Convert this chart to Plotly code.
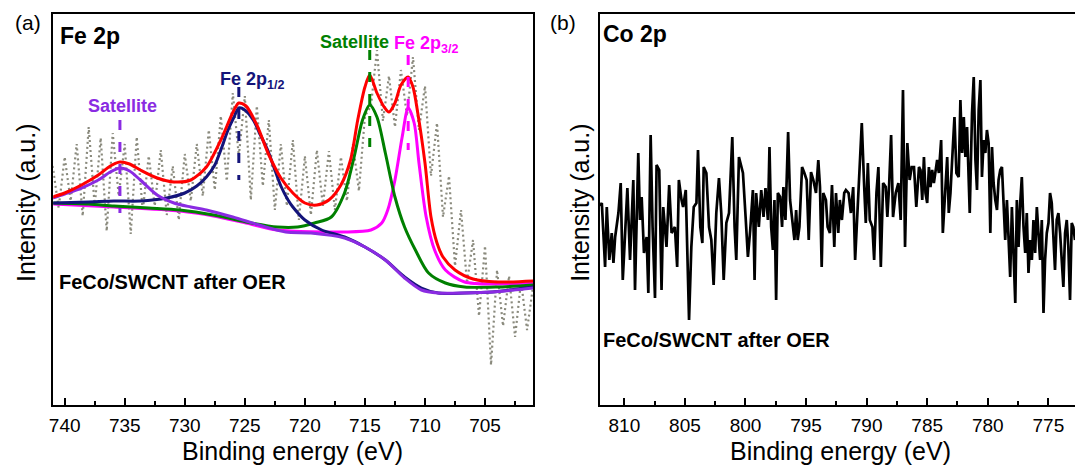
import plotly.graph_objects as go

FONT = "Liberation Sans, Arial, sans-serif"

# ---------------- Panel (a): Fe 2p ----------------
# raw spectrum, binding energy from 741 eV downwards in 0.5 eV steps
fe_start, fe_step = 741.0, 0.5
fe_raw = [240, 198, 249, 205, 262, 190, 279, 200, 268, 175,
          273, 210, 262, 172, 269, 195, 250, 200, 256, 191,
          240, 186, 252, 205, 262, 210, 276, 216, 290, 225,
          313, 250, 310, 206, 300, 220, 286, 196, 262, 200,
          266, 186, 250, 191, 256, 200, 255, 196, 249, 205,
          262, 215, 290, 300, 356, 285, 330, 279, 336, 290,
          349, 276, 320, 230, 283, 189, 230, 140, 196, 123,
          166, 90, 160, 41, 136, 80, 130, 69, 125, 76, 120]
fe_energy = [fe_start - fe_step * i for i in range(len(fe_raw))]

# fitted envelope (red)
env_e = [741.0, 740.0, 738.6, 737.2, 736.2, 735.4, 734.6, 733.7, 732.3, 730.9,
         729.5, 728.2, 727.0, 725.9, 725.5, 724.9, 724.0, 723.0, 722.0, 721.0,
         720.0, 719.0, 718.0, 717.0, 716.2, 715.6, 715.0, 714.6, 714.0, 713.4,
         713.0, 712.5, 712.0, 711.4, 711.0, 710.6, 710.0, 709.5, 709.0, 708.5,
         707.5, 706.0, 704.0, 701.0]
env_v = [209, 213, 221, 231, 240, 244, 242, 236, 228, 224,
         226, 239, 266, 296, 303, 300, 281, 251, 228, 213,
         203, 201, 206, 221, 246, 286, 319, 331, 313, 299,
         294, 303, 321, 329, 319, 293, 243, 189, 163, 149,
         136, 127, 124, 125]

# satellite component at ~735.4 eV (purple)
sat1_e = [741.0, 740.0, 738.6, 737.2, 736.2, 735.4, 734.6, 733.7, 732.3, 730.9,
          729.5, 728.2, 726.0, 723.8, 721.6, 719.5, 716.7, 715.0, 713.3, 711.7,
          710.3, 708.9, 706.7, 704.4, 701.0]
sat1_v = [208, 212, 218, 226, 234, 238, 235, 226, 211, 203,
          199, 196, 189, 181, 174, 173, 168, 159, 146, 128,
          116, 113, 113, 114, 118]

# Fe 2p1/2 component (navy)
p12_e = [741.0, 738.0, 735.9, 733.7, 731.5, 730.0, 729.0, 728.2, 727.5, 727.0,
         726.4, 725.9, 725.5, 725.0, 724.3, 723.7, 723.1, 722.5, 722.0, 721.4,
         721.0, 720.0, 718.6, 716.7, 715.0, 713.3, 711.7, 710.3, 708.9, 706.7,
         704.4, 701.0]
p12_v = [203, 204, 205, 205, 208, 213, 220, 229, 241, 256,
         276, 289, 298, 296, 286, 271, 256, 236, 220, 206,
         199, 186, 176, 169, 159, 146, 129, 118, 113, 113,
         114, 119]

# satellite component at ~714.6 eV (green)
sat2_e = [741.0, 738.0, 735.9, 733.0, 730.4, 727.6, 724.9, 722.3, 720.6, 719.2,
          717.8, 716.7, 715.9, 715.2, 714.6, 714.0, 713.3, 712.5, 711.7, 710.8,
          709.7, 708.3, 706.7, 704.0, 701.0]
sat2_v = [203, 202, 200, 198, 196, 191, 184, 179, 179, 183,
          189, 213, 249, 286, 301, 289, 253, 209, 179, 156,
          133, 123, 119, 119, 121]

# Fe 2p3/2 component (magenta)
p32_e = [741.0, 735.9, 730.4, 727.6, 724.9, 722.3, 716.7, 714.5, 713.6, 713.1,
         712.5, 711.9, 711.4, 710.9, 710.5, 709.9, 709.2, 708.3, 706.7, 704.0,
         701.0]
p32_v = [202, 199, 195, 190, 183, 176, 174, 176, 183, 196,
         226, 269, 298, 283, 243, 189, 156, 136, 124, 122,
         123]

# peak markers and labels
peak_pos = [735.4, 725.5, 714.6, 711.4]
mark_top = [286, 319, 356, 351]
mark_bot = [193, 226, 259, 256]
peak_colors = ["#8a2be2", "#14147a", "#008000", "#ff00ff"]
peak_labels = ["Satellite", "Fe 2p<sub>1/2</sub>", "Satellite", "Fe 2p<sub>3/2</sub>"]
label_x = [735.2, 724.4, 715.9, 709.9]
label_y = [300, 326, 364, 362]

# ---------------- Panel (b): Co 2p ----------------
co_energy = [812.0, 811.86, 811.59, 811.45, 811.24, 811.04, 810.90, 810.76, 810.49, 810.30,
             810.13, 809.94, 809.75, 809.53, 809.26, 809.12, 808.85, 808.71, 808.57, 808.38,
             808.16, 808.02, 807.83, 807.67, 807.47, 807.34, 807.12, 806.93, 806.79, 806.52,
             806.30, 806.10, 805.83, 805.64, 805.50, 805.28, 805.15, 804.93, 804.74, 804.66,
             804.47, 804.27, 804.05, 803.92, 803.73, 803.56, 803.45, 803.23, 803.01, 802.82,
             802.63, 802.41, 802.19, 802.00, 801.80, 801.58, 801.36, 801.09, 800.90, 800.76,
             800.54, 800.35, 800.21, 799.99, 799.80, 799.61, 799.39, 799.25, 799.12, 798.90,
             798.70, 798.51, 798.35, 798.15, 798.02, 797.88, 797.74, 797.61, 797.47, 797.33,
             797.14, 796.98, 796.87, 796.70, 796.48, 796.32, 796.10, 795.96, 795.82, 795.69,
             795.55, 795.33, 795.14, 794.95, 794.78, 794.59, 794.40, 794.18, 793.99, 793.85,
             793.71, 793.58, 793.36, 793.22, 793.03, 792.86, 792.67, 792.53, 792.34, 792.21,
             792.04, 791.85, 791.71, 791.49, 791.30, 791.11, 790.95, 790.75, 790.62, 790.40,
             790.20, 790.07, 789.90, 789.74, 789.52, 789.38, 789.19, 789.03, 788.83, 788.64,
             788.42, 788.29, 788.15, 787.98, 787.82, 787.60, 787.38, 787.19, 787.00, 786.83,
             786.64, 786.45, 786.28, 786.09, 785.90, 785.68, 785.55, 785.41, 785.27, 785.14,
             785.00, 784.86, 784.73, 784.59, 784.45, 784.31, 784.18, 784.04, 783.85, 783.71,
             783.57, 783.35, 783.22, 783.08, 782.94, 782.75, 782.59, 782.40, 782.26, 782.12,
             781.98, 781.85, 781.71, 781.49, 781.30, 781.16, 781.02, 780.89, 780.75, 780.61,
             780.48, 780.34, 780.20, 780.07, 779.93, 779.79, 779.65, 779.52, 779.38, 779.24,
             779.11, 778.97, 778.83, 778.69, 778.56, 778.42, 778.28, 778.15, 778.01, 777.87,
             777.73, 777.60, 777.46, 777.32, 777.19, 777.05, 776.91, 776.78, 776.64, 776.50,
             776.36, 776.23, 776.09, 775.95, 775.82, 775.68, 775.54, 775.40, 775.27, 775.13,
             774.99, 774.86, 774.72, 774.58, 774.45, 774.31, 774.17, 774.03, 773.90, 773.76,
             773.62, 773.48, 773.35, 773.21, 773.07, 772.94, 772.80]
co_intensity = [200, 203, 139, 199, 146, 173, 143, 169, 193, 223,
                126, 176, 218, 146, 226, 116, 253, 186, 209, 153,
                169, 113, 271, 179, 108, 241, 236, 116, 199, 159,
                221, 173, 179, 139, 226, 206, 199, 216, 139, 86,
                159, 199, 203, 256, 179, 163, 239, 233, 179, 166,
                121, 193, 228, 193, 126, 183, 193, 269, 179, 146,
                249, 239, 233, 189, 149, 176, 216, 126, 213, 179,
                216, 189, 218, 186, 259, 179, 156, 206, 106, 213,
                209, 179, 219, 186, 274, 206, 179, 166, 196, 166,
                179, 239, 233, 226, 166, 234, 226, 213, 246, 219,
                139, 213, 206, 179, 173, 221, 159, 213, 173, 206,
                186, 213, 216, 213, 193, 219, 146, 193, 219, 283,
                219, 183, 243, 186, 179, 146, 213, 239, 139, 223,
                219, 189, 219, 271, 189, 213, 223, 186, 316, 159,
                263, 226, 239, 239, 199, 239, 236, 206, 249, 213,
                203, 239, 219, 236, 223, 236, 246, 233, 266, 173,
                206, 249, 193, 213, 246, 289, 233, 229, 306, 253,
                289, 249, 279, 193, 293, 329, 246, 216, 296, 326,
                229, 266, 253, 276, 263, 173, 259, 223, 206, 196,
                226, 236, 239, 206, 166, 206, 173, 129, 199, 146,
                103, 206, 159, 203, 229, 179, 153, 193, 133, 166,
                146, 186, 153, 199, 173, 146, 186, 93, 146, 173,
                183, 213, 203, 173, 136, 186, 193, 173, 146, 119,
                173, 186, 159, 106, 183, 179, 166]

# axis tick values
major_dtick = 5
minor_dtick = 2.5

fig = go.Figure()

# raw Fe 2p data (grey dotted)
fig.add_trace(go.Scatter(x=fe_energy, y=fe_raw, mode="lines",
                         line=dict(color="rgb(138,138,125)", width=2.2, dash="2px,3px"),
                         xaxis="x", yaxis="y", hoverinfo="skip"))

# components
for e, v, c in [(p32_e, p32_v, "#ff00ff"), (sat2_e, sat2_v, "#008000"),
                (p12_e, p12_v, "#14147a"), (sat1_e, sat1_v, "#8a2be2"),
                (env_e, env_v, "#ff0000")]:
    fig.add_trace(go.Scatter(x=e, y=v, mode="lines", line=dict(color=c, width=3, shape="spline", smoothing=0.8),
                             xaxis="x", yaxis="y", hoverinfo="skip"))

# dashed peak markers
for p, t, b, c in zip(peak_pos, mark_top, mark_bot, peak_colors):
    fig.add_trace(go.Scatter(x=[p, p], y=[t, b], mode="lines",
                             line=dict(color=c, width=3, dash="10px,12px"),
                             xaxis="x", yaxis="y", hoverinfo="skip"))

# Co 2p data
fig.add_trace(go.Scatter(x=co_energy, y=co_intensity, mode="lines",
                         line=dict(color="black", width=2.7),
                         xaxis="x2", yaxis="y2", hoverinfo="skip"))

axis_common = dict(showline=True, linecolor="black", linewidth=2, showgrid=False, zeroline=False)
xcommon = dict(axis_common, ticks="inside", ticklen=7, tickwidth=2, tickcolor="black",
               dtick=major_dtick, tick0=700,
               minor=dict(ticks="inside", ticklen=4, tickwidth=2, tickcolor="black",
                          dtick=minor_dtick, tick0=700),
               tickfont=dict(family=FONT, size=19, color="black"), ticklabelstandoff=2)
ycommon = dict(axis_common, showticklabels=False, ticks="", range=[1, 392])

fig.update_layout(
    width=1075, height=466,
    margin=dict(l=0, r=0, t=14, b=61),
    paper_bgcolor="white", plot_bgcolor="white",
    showlegend=False,
    font=dict(family=FONT, color="black"),
    xaxis=dict(xcommon, domain=[0.046, 0.494], range=[740.95, 701.0], anchor="y", mirror=True),
    yaxis=dict(ycommon, domain=[0, 1], anchor="x", mirror=True),
    xaxis2=dict(xcommon, domain=[0.5566, 1.0], range=[812.0, 772.8], anchor="y2", mirror=True),
    yaxis2=dict(ycommon, domain=[0, 1], anchor="x2", mirror=False),
)

ann = []
for txt, x, y, c in zip(peak_labels, label_x, label_y, peak_colors):
    ann.append(dict(text="<b>%s</b>" % txt, x=x, y=y, xref="x", yref="y", showarrow=False,
                    font=dict(family=FONT, size=18, color=c), xanchor="center", yanchor="middle"))

W, H_TOP, H_BOT = 1075.0, 14.0, 405.0
def px(x):
    return x / W
def py(y):
    return (H_BOT - y) / (H_BOT - H_TOP)

texts = [
    ("(a)", 24, 22, 21, "center", 0),
    ("(b)", 561, 22, 21, "center", 0),
    ("<b>Fe 2p</b>", 54, 36, 23, "left", 0),
    ("<b>Co 2p</b>", 599, 34, 23, "left", 0),
    ("<b>FeCo/SWCNT after OER</b>", 53, 282, 20, "left", 0),
    ("<b>FeCo/SWCNT after OER</b>", 599, 340, 20, "left", 0),
    ("Binding energy (eV)", 290, 451, 25, "center", 0),
    ("Binding energy (eV)", 840, 451, 25, "center", 0),
    ("Intensity (a.u.)", 22, 203, 25, "center", -90),
    ("Intensity (a.u.)", 578, 203, 25, "center", -90),
]
for t, x, y, s, xa, ang in texts:
    ann.append(dict(text=t, x=px(x), y=py(y), xref="paper", yref="paper", showarrow=False,
                    font=dict(family=FONT, size=s, color="black"), xanchor=xa, yanchor="middle",
                    textangle=ang))

fig.update_layout(annotations=ann)
fig.write_html("out.html")
